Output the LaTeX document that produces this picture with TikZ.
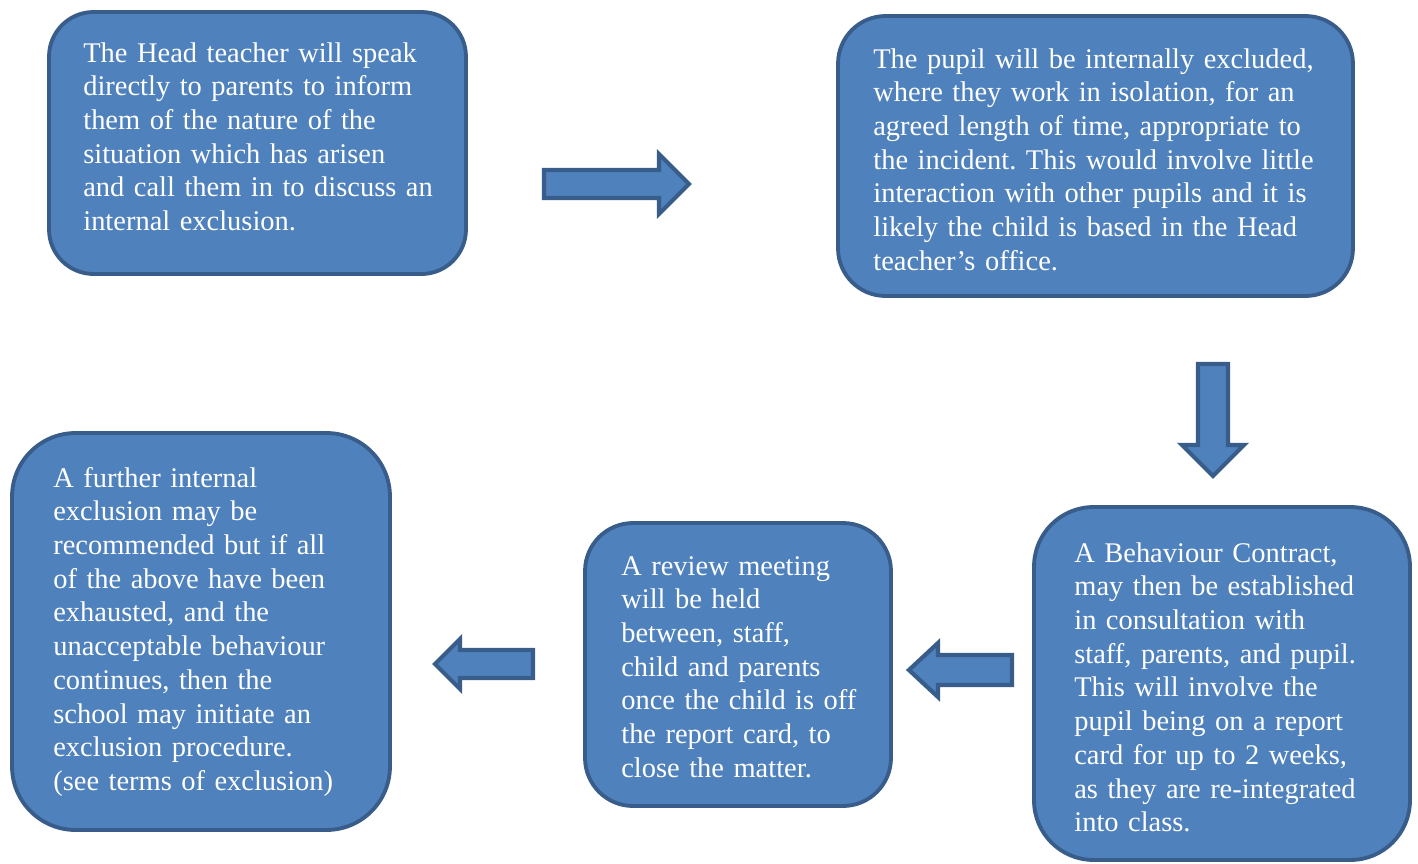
\documentclass[tikz,border=0pt]{standalone}
\usepackage{fontspec}
\setmainfont{Liberation Serif}
\usepackage{tikz}
\definecolor{stepfill}{HTML}{4F81BD}
\definecolor{stepline}{HTML}{385D8A}
\frenchspacing

\begin{document}
\begin{tikzpicture}[x=0.02cm, y=-0.02cm,
        stepbox/.style={rectangle, draw=stepline, fill=stepfill, line width=2.2pt, inner sep=0pt},
        steptext/.style={anchor=base west, inner sep=0pt, text=white, text width=10cm, align=left, font=\fontsize{16.2}{19.2}\selectfont},
        blockarrow/.style={draw=stepline, fill=stepfill, line width=2.4pt}
    ]
        \useasboundingbox (0,0) rectangle (1418,863);
        \clip (0,0) rectangle (1418,863);

        % Boxes
        \node [stepbox, minimum width=8.34cm, minimum height=5.24cm, rounded corners=0.89cm] (phone) at (257.5,143) {};
        \node [stepbox, minimum width=10.30cm, minimum height=5.60cm, rounded corners=0.95cm] (isolate) at (1095.5,156) {};
        \node [stepbox, minimum width=7.52cm, minimum height=7.06cm, rounded corners=1.19cm] (contract) at (1222,683.5) {};
        \node [stepbox, minimum width=6.12cm, minimum height=5.66cm, rounded corners=0.96cm] (review) at (738,664.5) {};
        \node [stepbox, minimum width=7.56cm, minimum height=7.94cm, rounded corners=1.27cm] (further) at (201,631.5) {};

        % Texts
        \node [steptext] (phonetext) at (83,62) {The Head teacher will speak\\directly to parents to inform\\them of the nature of the\\situation which has arisen\\and call them in to discuss an\\internal exclusion.};
        \node [steptext] (isolatetext) at (873,68) {The pupil will be internally excluded,\\where they work in isolation, for an\\agreed length of time, appropriate to\\the incident. This would involve little\\interaction with other pupils and it is\\likely the child is based in the Head\\teacher’s office.};
        \node [steptext] (contracttext) at (1074,562) {A Behaviour Contract,\\may then be established\\in consultation with\\staff, parents, and pupil.\\This will involve the\\pupil being on a report\\card for up to 2 weeks,\\as they are re-integrated\\into class.};
        \node [steptext] (reviewtext) at (621,575) {A review meeting\\will be held\\between, staff,\\child and parents\\once the child is off\\the report card, to\\close the matter.};
        \node [steptext] (furthertext) at (53,487) {A further internal\\exclusion may be\\recommended but if all\\of the above have been\\exhausted, and the\\unacceptable behaviour\\continues, then the\\school may initiate an\\exclusion procedure.\\(see terms of exclusion)};

        % Block arrows
        \draw [blockarrow] (544,170) -- (659,170) -- (659,154) -- (689,184) -- (659,214) -- (659,198) -- (544,198) -- cycle;
        \draw [blockarrow] (1198,364) -- (1228,364) -- (1228,445) -- (1244,445) -- (1213,476) -- (1182,445) -- (1198,445) -- cycle;
        \draw [blockarrow] (1012,655) -- (938,655) -- (938,643) -- (909,670) -- (938,697) -- (938,685) -- (1012,685) -- cycle;
        \draw [blockarrow] (533,650) -- (460,650) -- (460,639) -- (435,664) -- (460,689) -- (460,678) -- (533,678) -- cycle;
    \end{tikzpicture}
\end{document}
